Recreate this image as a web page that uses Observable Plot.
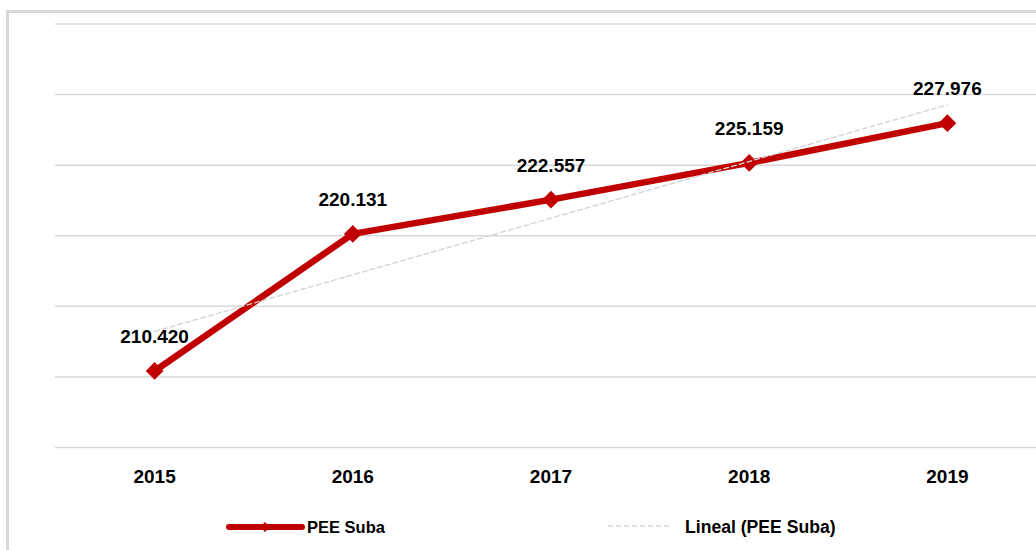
<!DOCTYPE html>
<html>
<head>
<meta charset="utf-8">
<script src="https://cdn.jsdelivr.net/npm/d3@7"></script>
<script src="https://cdn.jsdelivr.net/npm/@observablehq/plot@0.6"></script>
<style>
  html, body { margin: 0; padding: 0; background: #fff; }
  #wrap { position: relative; width: 1036px; height: 550px; overflow: hidden; background: #fff;
          font-family: "Liberation Sans", Arial, sans-serif; }
  #border { position: absolute; left: 6px; top: 10px; width: 2000px; height: 2000px;
            border-left: 3px solid #d9d9d9; border-top: 3px solid #d9d9d9; box-sizing: border-box; }
  #chart { position: absolute; left: 0; top: 0; width: 1046px; }
  #chart svg { max-width: none !important; }
  .leg { position: absolute; font-weight: bold; color: #000; line-height: 20px; white-space: nowrap; }
  .sw { position: absolute; }
</style>
</head>
<body>
<div id="wrap">
  <div id="border"></div>
  <div id="chart"></div>
</div>
<script>
const years = [2015, 2016, 2017, 2018, 2019];
const values = [210.420, 220.131, 222.557, 225.159, 227.976];
const yGrid = [205, 210, 215, 220, 225, 230, 235];
const seriesName = "PEE Suba";
const trendName = "Lineal (PEE Suba)";

const data = years.map((yr, i) => ({year: yr, value: values[i]}));
const red = "#C00000";

const plot = Plot.plot({
  width: 1046,
  height: 500,
  marginLeft: 55,
  marginRight: 0,
  marginTop: 23.5,
  marginBottom: 53,
  style: {fontFamily: '"Liberation Sans", Arial, sans-serif', background: "transparent", color: "#000", maxWidth: "none"},
  x: {type: "linear", domain: [2014.5, 2019.5]},
  y: {domain: [205, 235], axis: null},
  marks: [
    Plot.ruleY(yGrid, {y: d => d, stroke: "#d9d9d9", strokeWidth: 1.5}),
    Plot.axisX(years, {tickSize: 0, tickPadding: 22, tickFormat: "d", fontSize: 19, fontWeight: "bold", fill: "#000", label: null}),
    Plot.line(data, {x: "year", y: "value", stroke: red, strokeWidth: 6.5, strokeLinejoin: "round"}),
    Plot.dot(data, {x: "year", y: "value", symbol: "diamond2", r: 8, fill: red, stroke: "none"}),
    Plot.linearRegressionY(data, {x: "year", y: "value", stroke: "#d2d2d2", strokeWidth: 1.3, strokeDasharray: "5,3", ci: 0}),
    Plot.text(data, {x: "year", y: "value", text: d => d3.format(".3f")(d.value), dy: -34, lineAnchor: "middle", fontSize: 19, fontWeight: "bold", fill: "#000"})
  ]
});
document.getElementById("chart").appendChild(plot);

// Legend (below the chart)
const wrap = document.getElementById("wrap");
const ns = "http://www.w3.org/2000/svg";
function swatch(left, top, w, h, build) {
  const s = document.createElementNS(ns, "svg");
  s.setAttribute("width", w); s.setAttribute("height", h);
  s.setAttribute("class", "sw");
  s.style.left = left + "px"; s.style.top = top + "px";
  build(s);
  wrap.appendChild(s);
}
function el(tag, attrs) {
  const e = document.createElementNS(ns, tag);
  for (const k in attrs) e.setAttribute(k, attrs[k]);
  return e;
}
swatch(225, 517, 82, 20, s => {
  s.appendChild(el("line", {x1: 4, x2: 77, y1: 10, y2: 10, stroke: red, "stroke-width": 6, "stroke-linecap": "round"}));
  s.appendChild(el("path", {d: "M40,5 L45,10 L40,15 L35,10 Z", fill: red}));
});
swatch(605, 516, 70, 20, s => {
  s.appendChild(el("line", {x1: 3, x2: 67, y1: 10, y2: 10, stroke: "#d2d2d2", "stroke-width": 1.3, "stroke-dasharray": "5,3"}));
});
const l1 = document.createElement("div");
l1.className = "leg"; l1.style.left = "307px"; l1.style.top = "517px"; l1.style.fontSize = "16.5px";
l1.textContent = seriesName; wrap.appendChild(l1);
const l2 = document.createElement("div");
l2.className = "leg"; l2.style.left = "685px"; l2.style.top = "516.5px"; l2.style.fontSize = "17.6px";
l2.textContent = trendName; wrap.appendChild(l2);
</script>
</body>
</html>
